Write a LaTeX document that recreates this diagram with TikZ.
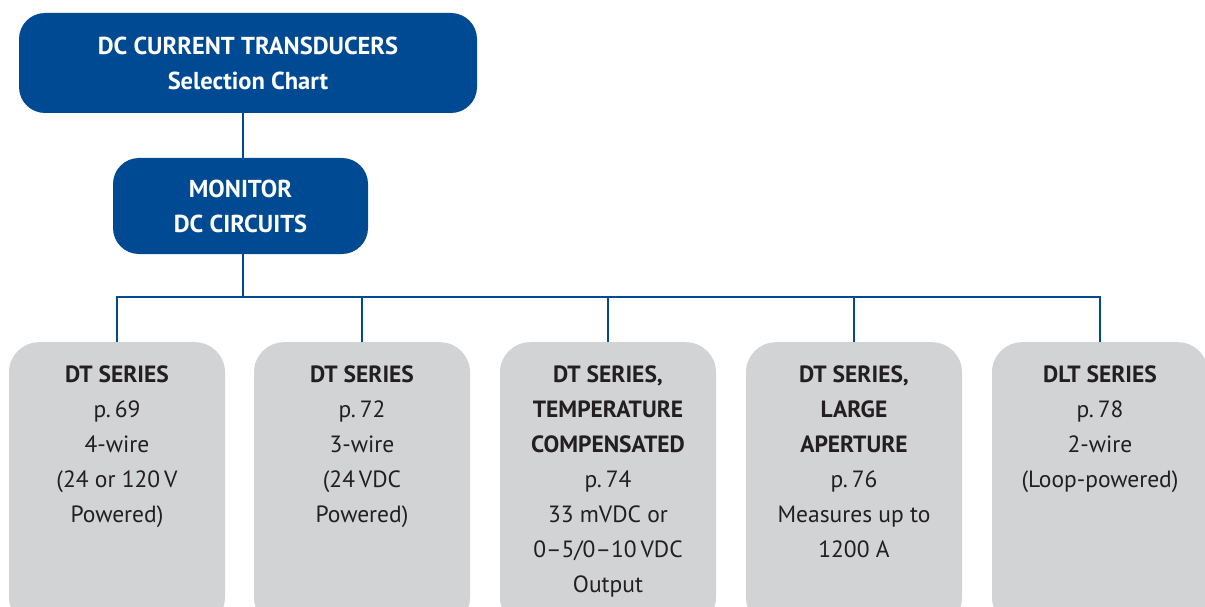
\documentclass[tikz,border=0pt]{standalone}
\usepackage{fontspec}
\setmainfont{PT Sans}
\usetikzlibrary{calc}
\definecolor{dblue}{HTML}{004A93}
\definecolor{lgrey}{HTML}{D1D3D4}
\definecolor{tblack}{HTML}{231F20}
\begin{document}
\begin{tikzpicture}[x=1pt,y=-1pt,
  bluebox/.style={draw=none,fill=dblue,rounded corners=26pt,inner sep=0pt,text=white,
    font=\fontsize{24.5}{35}\selectfont\bfseries,align=center},
  greybox/.style={draw=none,fill=lgrey,rounded corners=30pt,minimum width=216pt,minimum height=285pt,inner sep=0pt,anchor=north},
  greytext/.style={inner sep=0pt,anchor=north,align=center,text=tblack,font=\fontsize{23.5}{35}\selectfont},
  link/.style={draw=dblue,line width=2.7pt}]
\useasboundingbox (0,0) rectangle (1205,607);
\node[bluebox,minimum width=458pt,minimum height=100pt] (top) at (248,63) {DC CURRENT TRANSDUCERS\\Selection Chart};
\node[bluebox,minimum width=255pt,minimum height=96pt] (mon) at (240.5,206) {MONITOR\\DC CIRCUITS};
\foreach \i/\x in {1/117,2/362,3/608,4/854,5/1100}{
  \node[greybox] (b\i) at (\x,342) {};
}
\node[greytext] (t1) at (117,366) {\textbf{DT SERIES}\\p.\,69\\4-wire\\(24 or 120\,V\\Powered)};
\node[greytext] (t2) at (362,366) {\textbf{DT SERIES}\\p.\,72\\3-wire\\(24\,VDC\\Powered)};
\node[greytext] (t3) at (608,366) {\textbf{DT SERIES,}\\\textbf{TEMPERATURE}\\\textbf{COMPENSATED}\\p.\,74\\33 mVDC or\\0–5/0–10\,VDC\\Output};
\node[greytext] (t4) at (854,366) {\textbf{DT SERIES,}\\\textbf{LARGE}\\\textbf{APERTURE}\\p.\,76\\Measures up to\\1200 A};
\node[greytext] (t5) at (1100,366) {\textbf{DLT SERIES}\\p.\,78\\2-wire\\(Loop-powered)};
\coordinate (bus) at (243,297);
\draw[link] (top.south -| bus) -- (mon.north -| bus);
\draw[link] (mon.south -| bus) -- (bus);
\draw[link] (b1.north) |- (bus) -| (b5.north);
\foreach \i in {2,3,4}{ \draw[link] (b\i.north) -- (b\i.north |- bus); }
\end{tikzpicture}
\end{document}
